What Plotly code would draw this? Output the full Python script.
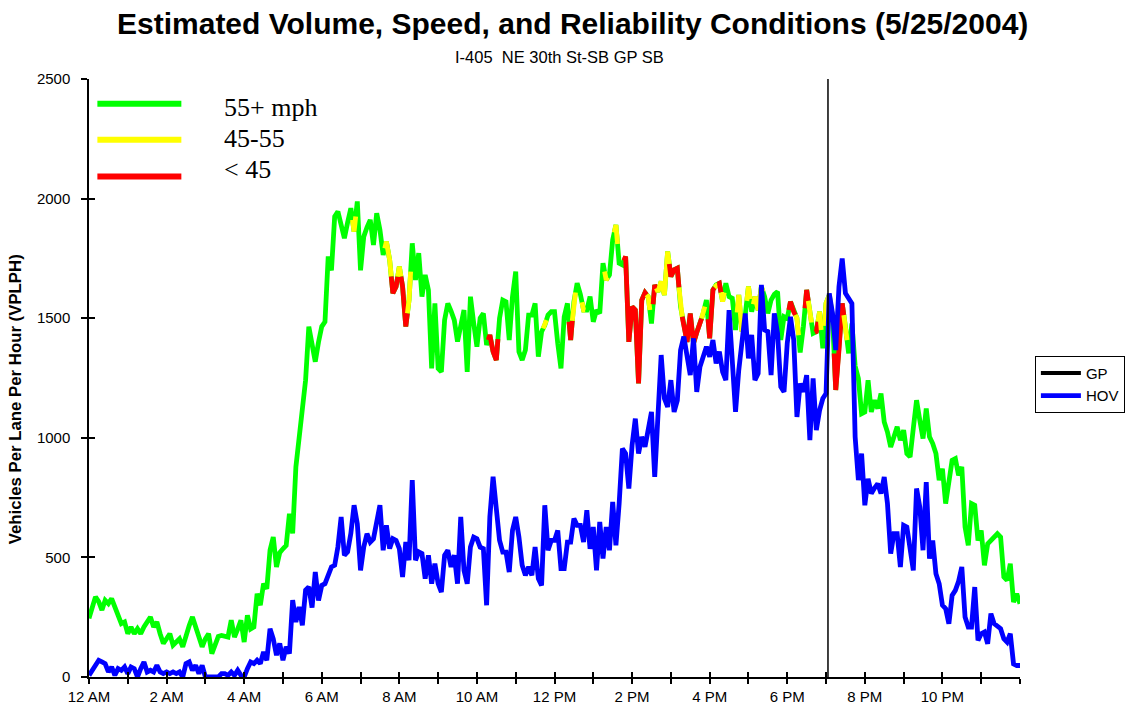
import numpy as np
import plotly.graph_objects as go

# 5-minute volumes (vehicles per lane per hour), 12 AM through midnight, one row per hour
gp_volume = [
    245, 300, 335, 315, 280, 321, 307, 328, 293, 258, 223, 230,
    181, 209, 181, 202, 181, 209, 230, 251, 209, 230, 181, 140,
    160, 181, 133, 150, 160, 126, 181, 215, 251, 209, 170, 126,
    160, 181, 98, 140, 170, 174, 170, 167, 237, 167, 200, 237,
    146, 258, 201, 209, 348, 300, 390, 369, 530, 585, 460, 520,
    536, 550, 683, 600, 878, 1000, 1157, 1241, 1465, 1400, 1318, 1400,
    1465, 1485, 1758, 1700, 1925, 1946, 1890, 1834, 1900, 1960, 1862, 1988,
    1700, 1841, 1880, 1911, 1806, 1939, 1869, 1764, 1820, 1744, 1604, 1632,
    1716, 1632, 1465, 1576, 1813, 1660, 1772, 1590, 1681, 1618, 1290, 1562,
    1290, 1276, 1492, 1562, 1530, 1492, 1402, 1478, 1534, 1276, 1590, 1480,
    1381, 1500, 1520, 1388, 1430, 1360, 1325, 1500, 1576, 1569, 1409, 1590,
    1695, 1360, 1325, 1367, 1513, 1513, 1562, 1339, 1443, 1471, 1513, 1527,
    1527, 1395, 1290, 1506, 1562, 1409, 1569, 1646, 1600, 1534, 1534, 1590,
    1485, 1534, 1520, 1730, 1660, 1681, 1827, 1890, 1730, 1723, 1758, 1401,
    1548, 1534, 1227, 1576, 1607, 1590, 1478, 1639, 1611, 1653, 1597, 1779,
    1674, 1702, 1709, 1548, 1464, 1401, 1520, 1395, 1440, 1478, 1520, 1576,
    1416, 1618, 1639, 1646, 1569, 1646, 1590, 1583, 1451, 1597, 1444, 1513,
    1632, 1527, 1590, 1534, 1632, 1590, 1520, 1576, 1600, 1611, 1409, 1506,
    1499, 1569, 1527, 1500, 1357, 1465, 1618, 1527, 1437, 1444, 1527, 1374,
    1562, 1597, 1506, 1200, 1367, 1562, 1464, 1353, 1478, 1300, 1248, 1101,
    1108, 1241, 1108, 1157, 1122, 1185, 1066, 1024, 962, 1000, 1046, 990,
    1032, 934, 920, 1040, 1157, 1074, 997, 1122, 1004, 976, 934, 823,
    871, 725, 808, 906, 913, 843, 878, 627, 550, 725, 718, 571,
    613, 467, 557, 570, 585, 599, 585, 418, 404, 474, 313, 348,
    306,
]

hov_volume = [
    7, 28, 42, 70, 63, 56, 21, 42, 7, 35, 28, 42,
    14, 42, 35, 0, 35, 63, 21, 28, 21, 49, 21, 14,
    21, 14, 21, 14, 21, 0, 56, 63, 28, 49, 14, 49,
    0, 0, 0, 0, 0, 14, 14, 7, 21, 7, 28, 7,
    0, 35, 63, 56, 70, 56, 105, 70, 202, 160, 91, 140,
    70, 126, 98, 321, 230, 293, 216, 363, 377, 290, 439, 320,
    383, 390, 430, 460, 467, 544, 669, 509, 523, 600, 718, 641,
    446, 544, 599, 564, 578, 640, 718, 530, 634, 537, 578, 571,
    537, 418, 564, 488, 823, 488, 523, 516, 411, 509, 390, 474,
    390, 355, 509, 530, 460, 509, 390, 669, 446, 390, 544, 585,
    578, 543, 537, 300, 669, 837, 711, 571, 522, 522, 439, 613,
    669, 585, 467, 425, 460, 425, 543, 411, 383, 718, 530, 571,
    571, 613, 453, 453, 564, 564, 662, 634, 634, 564, 697, 536,
    627, 446, 648, 495, 627, 530, 732, 550, 725, 955, 934, 788,
    969, 1080, 934, 1004, 962, 1040, 1108, 837, 1129, 1346, 1164, 1129,
    1241, 1108, 1157, 1367, 1423, 1340, 1262, 1416, 1192, 1297, 1340, 1381,
    1339, 1409, 1311, 1360, 1276, 1241, 1534, 1325, 1109, 1283, 1409, 1520,
    1332, 1430, 1241, 1269, 1639, 1451, 1444, 1262, 1520, 1437, 1213, 1192,
    1395, 1506, 1409, 1087, 1227, 1192, 1262, 990, 1248, 1032, 1115, 1164,
    1185, 1604, 1520, 1367, 1632, 1750, 1604, 1583, 1562, 1004, 823, 934,
    718, 829, 767, 790, 808, 767, 836, 725, 516, 599, 599, 460,
    634, 627, 516, 446, 788, 711, 530, 815, 495, 571, 432, 390,
    300, 286, 223, 341, 362, 400, 460, 251, 209, 209, 376, 153,
    181, 188, 139, 265, 223, 210, 202, 160, 146, 181, 55, 48,
    48,
]

# GP speed band per interval: G = 55+ mph, Y = 45-55 mph, R = under 45 mph
gp_speed_band = (
    "GGGGGGGGGGGG" "GGGGGGGGGGGG" "GGGGGGGGGGGG" "GGGGGGGGGGGG"
    "GGGGGGGGGGGG" "GGGGGGGGGGGG" "GGGGGGGGGGYG" "GGGGGGGGYYRR"
    "YRRYGGGGGGGG" "GGGGGGGGGGGG" "GGGGRRRGGGGG" "GGGGGGGGGYGG"
    "GGGGGRYGGYGG" "GGGGYGGYGGRR" "RRRRRYGRYYYY" "RRRYRRRRRRYG"
    "RRYRYGGGGYYG" "YGYYYGGGGGGG" "GRRYGGRYGRYG" "YYGRRRYGGGGG"
    "GGGGGGGGGGGG" "GGGGGGGGGGGG" "GGGGGGGGGGGG" "GGGGGGGGGGGG"
    "G"
)

band_labels = ["55+ mph", "45-55", "< 45"]
band_colors = {"G": "#00FF00", "Y": "#FFFF00", "R": "#FF0000"}

hour_ticks = list(range(0, 25))
hour_labels = ["12 AM", "2 AM", "4 AM", "6 AM", "8 AM", "10 AM",
               "12 PM", "2 PM", "4 PM", "6 PM", "8 PM", "10 PM"]
tick_text = [hour_labels[h // 2] if (h % 2 == 0 and h < 24) else "" for h in hour_ticks]

current_time_hr = 19.05

hours = np.arange(len(gp_volume)) * 5 / 60.0
gp = np.array(gp_volume, dtype=float)
hov = np.array(hov_volume, dtype=float)
n = len(gp)

FONT = "Liberation Sans, Arial, sans-serif"
LINE_W = 4.8

fig = go.Figure()

# GP base line in the free-flow colour
fig.add_trace(go.Scatter(x=hours, y=gp, mode="lines", showlegend=False,
                         line=dict(color=band_colors["G"], width=LINE_W),
                         hoverinfo="skip"))

# overlay slower-speed runs; each interval owns the half-steps around it
runs = []
start = 0
for i in range(1, n + 1):
    if i == n or gp_speed_band[i] != gp_speed_band[start]:
        runs.append((start, i - 1, gp_speed_band[start]))
        start = i
for a, b, band in runs:
    if band == "G":
        continue
    xs = list(hours[a:b + 1])
    ys = list(gp[a:b + 1])
    if a > 0:
        xs.insert(0, (hours[a - 1] + hours[a]) / 2)
        ys.insert(0, (gp[a - 1] + gp[a]) / 2)
    if b < n - 1:
        xs.append((hours[b] + hours[b + 1]) / 2)
        ys.append((gp[b] + gp[b + 1]) / 2)
    fig.add_trace(go.Scatter(x=xs, y=ys, mode="lines", showlegend=False,
                             line=dict(color=band_colors[band], width=LINE_W),
                             hoverinfo="skip"))

# legend entries
fig.add_trace(go.Scatter(x=[None], y=[None], mode="lines", name="GP",
                         line=dict(color="black", width=4)))
fig.add_trace(go.Scatter(x=hours, y=hov, mode="lines", name="HOV",
                         line=dict(color="#0000FF", width=LINE_W)))

# helper trace so the crossing-tick overlay axes render
fig.add_trace(go.Scatter(x=[None], y=[None], xaxis="x2", yaxis="y2",
                         showlegend=False, hoverinfo="skip"))

shapes = [
    dict(type="line", xref="x", yref="paper", x0=current_time_hr, x1=current_time_hr,
         y0=0, y1=1, line=dict(color="black", width=1.5)),
]
annotations = [
    dict(text="Estimated Volume, Speed, and Reliability Conditions (5/25/2004)",
         xref="paper", yref="paper", x=0.519, y=1.092, xanchor="center", yanchor="middle",
         showarrow=False, font=dict(family=FONT, size=30, color="black", weight="bold")),
    dict(text="I-405\u00a0\u00a0NE 30th St-SB GP SB",
         xref="paper", yref="paper", x=0.5057, y=1.037, xanchor="center", yanchor="middle",
         showarrow=False, font=dict(family=FONT, size=16.5, color="black")),
    dict(text="Vehicles Per Lane Per Hour (VPLPH)", textangle=-90,
         xref="paper", yref="paper", x=-0.078, y=0.465, xanchor="center", yanchor="middle",
         showarrow=False, font=dict(family=FONT, size=16.8, color="black", weight="bold")),
]

# speed band key in the upper-left of the plot
key_rows = [("G", 0.9587, 0.952), ("Y", 0.8984, 0.900), ("R", 0.8369, 0.848)]
for (band, line_y, text_y), label in zip(key_rows, band_labels):
    shapes.append(dict(type="line", xref="paper", yref="paper", x0=0.009, x1=0.0992,
                       y0=line_y, y1=line_y, line=dict(color=band_colors[band], width=6)))
    annotations.append(dict(text=label, xref="paper", yref="paper", x=0.1426, y=text_y,
                            xanchor="left", yanchor="middle", showarrow=False,
                            font=dict(family="Liberation Serif, Times New Roman, serif",
                                      size=26, color="black")))

fig.update_layout(
    width=1127, height=712, autosize=False,
    margin=dict(l=89, r=107, t=79, b=35, pad=0, autoexpand=False),
    paper_bgcolor="white", plot_bgcolor="white",
    font=dict(family=FONT, size=15, color="black"),
    shapes=shapes, annotations=annotations,
    showlegend=True,
    legend=dict(x=1.016, y=0.537, xanchor="left", yanchor="top",
                bordercolor="black", borderwidth=1, bgcolor="white",
                font=dict(family=FONT, size=15, color="black"),
                itemwidth=40, tracegroupgap=0),
    xaxis=dict(range=[0, 24], tickmode="array", tickvals=hour_ticks, ticktext=tick_text,
               ticks="outside", ticklen=5, tickwidth=1.5, tickcolor="black",
               showline=True, linecolor="black", linewidth=1.5,
               showgrid=False, zeroline=False, tickfont=dict(size=15)),
    yaxis=dict(range=[0, 2500], tickmode="linear", tick0=0, dtick=500,
               ticks="outside", ticklen=6, tickwidth=1.5, tickcolor="black",
               showline=True, linecolor="black", linewidth=1.5,
               showgrid=False, zeroline=False, tickfont=dict(size=15),
               ticklabelstandoff=8),
    xaxis2=dict(overlaying="x", anchor="y2", side="bottom", range=[0, 24],
                tickmode="array", tickvals=hour_ticks, showticklabels=False,
                ticks="inside", ticklen=5, tickwidth=1.5, tickcolor="black",
                showline=False, showgrid=False, zeroline=False),
    yaxis2=dict(overlaying="y", anchor="x2", side="left", range=[0, 2500],
                tickmode="linear", tick0=0, dtick=500, showticklabels=False,
                ticks="inside", ticklen=6, tickwidth=1.5, tickcolor="black",
                showline=False, showgrid=False, zeroline=False),
)

fig.write_html("out.html")
